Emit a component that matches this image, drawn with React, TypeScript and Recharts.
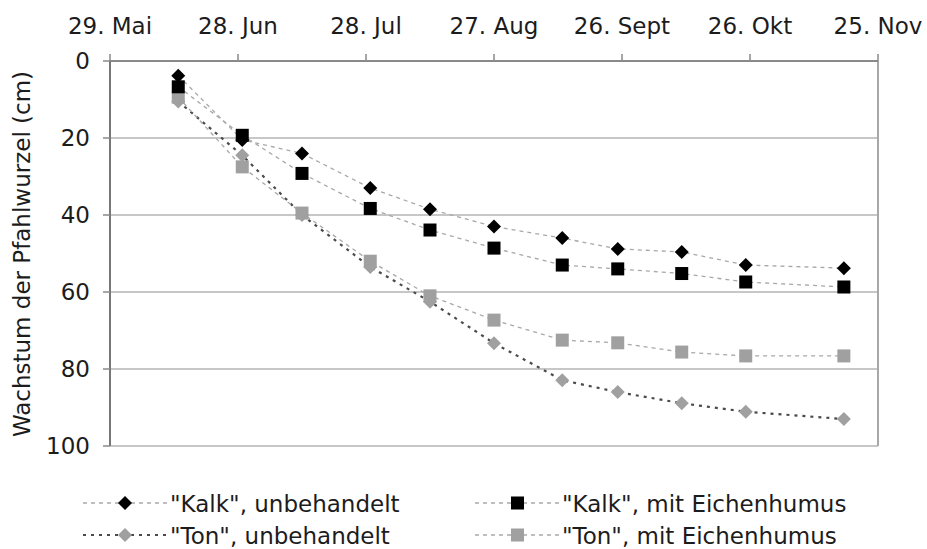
import React from "react";
import {
  LineChart,
  Line,
  XAxis,
  YAxis,
  CartesianGrid,
  ReferenceLine,
} from "recharts";

// days after 29. Mai
const days = [16, 31, 45, 61, 75, 90, 106, 119, 134, 149, 172];
const kalkUnbehandelt = [3.8, 20.5, 24, 33, 38.5, 43, 46, 48.8, 49.6, 53, 53.8];
const kalkHumus = [6.7, 19.3, 29.2, 38.3, 43.9, 48.6, 53, 54, 55.2, 57.4, 58.7];
const tonUnbehandelt = [10.5, 24.5, 40, 53.5, 62.5, 73.3, 82.9, 86, 88.9, 91.1, 93];
const tonHumus = [9.4, 27.5, 39.5, 52, 61, 67.3, 72.5, 73.2, 75.6, 76.6, 76.6];

const tickDays = [0, 30, 60, 90, 120, 150, 180];
const tickLabels = ["29. Mai", "28. Jun", "28. Jul", "27. Aug", "26. Sept", "26. Okt", "25. Nov"];
const yTicks = [0, 20, 40, 60, 80, 100];

const FONT = "'DejaVu Sans', Verdana, sans-serif";
const TEXT = "#1c1c1c";
const LIGHT_LINE = "#a8a8a8";
const DARK_LINE = "#4a4a4a";
const GRAY_MARK = "#a0a0a0";

const data = days.map((d, i) => ({
  day: d,
  kalkU: kalkUnbehandelt[i],
  kalkH: kalkHumus[i],
  tonU: tonUnbehandelt[i],
  tonH: tonHumus[i],
}));

const diamondDot = (fill: string) => (props: any) => {
  const { cx, cy, index } = props;
  const r = 7;
  return (
    <path
      key={`d-${fill}-${index}`}
      d={`M${cx} ${cy - r}L${cx + r} ${cy}L${cx} ${cy + r}L${cx - r} ${cy}Z`}
      fill={fill}
    />
  );
};

const squareDot = (fill: string) => (props: any) => {
  const { cx, cy, index } = props;
  const s = 13;
  return (
    <rect key={`s-${fill}-${index}`} x={cx - s / 2} y={cy - s / 2} width={s} height={s} fill={fill} />
  );
};

const legendItems = [
  { name: '"Kalk", unbehandelt', x: 83, y: 503, shape: "diamond", fill: "#000", stroke: LIGHT_LINE, dash: "4 4", w: 1.3 },
  { name: '"Kalk", mit Eichenhumus', x: 475, y: 503, shape: "square", fill: "#000", stroke: LIGHT_LINE, dash: "4 4", w: 1.3 },
  { name: '"Ton", unbehandelt', x: 83, y: 535, shape: "diamond", fill: GRAY_MARK, stroke: DARK_LINE, dash: "3 5", w: 2.2 },
  { name: '"Ton", mit Eichenhumus', x: 475, y: 535, shape: "square", fill: GRAY_MARK, stroke: LIGHT_LINE, dash: "4 4", w: 1.3 },
];

export default function App() {
  return (
    <div style={{ position: "absolute", left: 0, top: 0, width: 927, height: 549, background: "#fff", fontFamily: FONT }}>
      <LineChart
        width={927}
        height={549}
        data={data}
        margin={{ top: 21, right: 49, bottom: 103, left: 0 }}
      >
        <CartesianGrid vertical={false} stroke="#b4b4b4" strokeWidth={1.5} />
        <XAxis
          dataKey="day"
          type="number"
          orientation="top"
          domain={[0, 180]}
          ticks={tickDays}
          tickFormatter={(v: number) => tickLabels[tickDays.indexOf(v)] ?? ""}
          height={40}
          axisLine={{ stroke: "#8a8a8a", strokeWidth: 2 }}
          tickLine={{ stroke: "#8a8a8a", strokeWidth: 1.5 }}
          tickSize={7}
          tickMargin={20}
          tick={{ fill: TEXT, fontSize: 23, fontFamily: FONT }}
          interval={0}
        />
        <YAxis
          type="number"
          domain={[0, 100]}
          reversed
          ticks={yTicks}
          width={110}
          axisLine={{ stroke: "#777", strokeWidth: 2 }}
          tickLine={{ stroke: "#8a8a8a", strokeWidth: 1.5 }}
          tickSize={7}
          tickMargin={13}
          tick={{ fill: TEXT, fontSize: 23, fontFamily: FONT }}
          interval={0}
          label={{
            content: () => (
              <text
                x={22}
                y={254}
                transform="rotate(-90 22 254)"
                textAnchor="middle"
                dominantBaseline="central"
                fill={TEXT}
                fontSize={23}
                fontFamily={FONT}
              >
                Wachstum der Pfahlwurzel (cm)
              </text>
            ),
          }}
        />
        <ReferenceLine x={180} stroke="#a8a8a8" strokeWidth={2} />
        <Line
          dataKey="tonU"
          stroke={DARK_LINE}
          strokeWidth={2.2}
          strokeDasharray="3 5"
          dot={diamondDot(GRAY_MARK)}
          activeDot={false}
          isAnimationActive={false}
        />
        <Line
          dataKey="tonH"
          stroke={LIGHT_LINE}
          strokeWidth={1.3}
          strokeDasharray="4 4"
          dot={squareDot(GRAY_MARK)}
          activeDot={false}
          isAnimationActive={false}
        />
        <Line
          dataKey="kalkU"
          stroke={LIGHT_LINE}
          strokeWidth={1.3}
          strokeDasharray="4 4"
          dot={diamondDot("#000")}
          activeDot={false}
          isAnimationActive={false}
        />
        <Line
          dataKey="kalkH"
          stroke={LIGHT_LINE}
          strokeWidth={1.3}
          strokeDasharray="4 4"
          dot={squareDot("#000")}
          activeDot={false}
          isAnimationActive={false}
        />
      </LineChart>

      {/* legend */}
      <svg width={927} height={549} style={{ position: "absolute", left: 0, top: 0, pointerEvents: "none" }}>
        {legendItems.map((it) => (
          <g key={it.name}>
            <line x1={it.x} x2={it.x + 84} y1={it.y} y2={it.y} stroke={it.stroke} strokeWidth={it.w} strokeDasharray={it.dash} />
            {it.shape === "diamond" ? (
              <path
                d={`M${it.x + 42} ${it.y - 7}L${it.x + 49} ${it.y}L${it.x + 42} ${it.y + 7}L${it.x + 35} ${it.y}Z`}
                fill={it.fill}
              />
            ) : (
              <rect x={it.x + 36} y={it.y - 6.5} width={13} height={13} fill={it.fill} />
            )}
            <text x={it.x + 87} y={it.y + 9} fill={TEXT} fontSize={23} fontFamily={FONT}>
              {it.name}
            </text>
          </g>
        ))}
      </svg>
    </div>
  );
}
